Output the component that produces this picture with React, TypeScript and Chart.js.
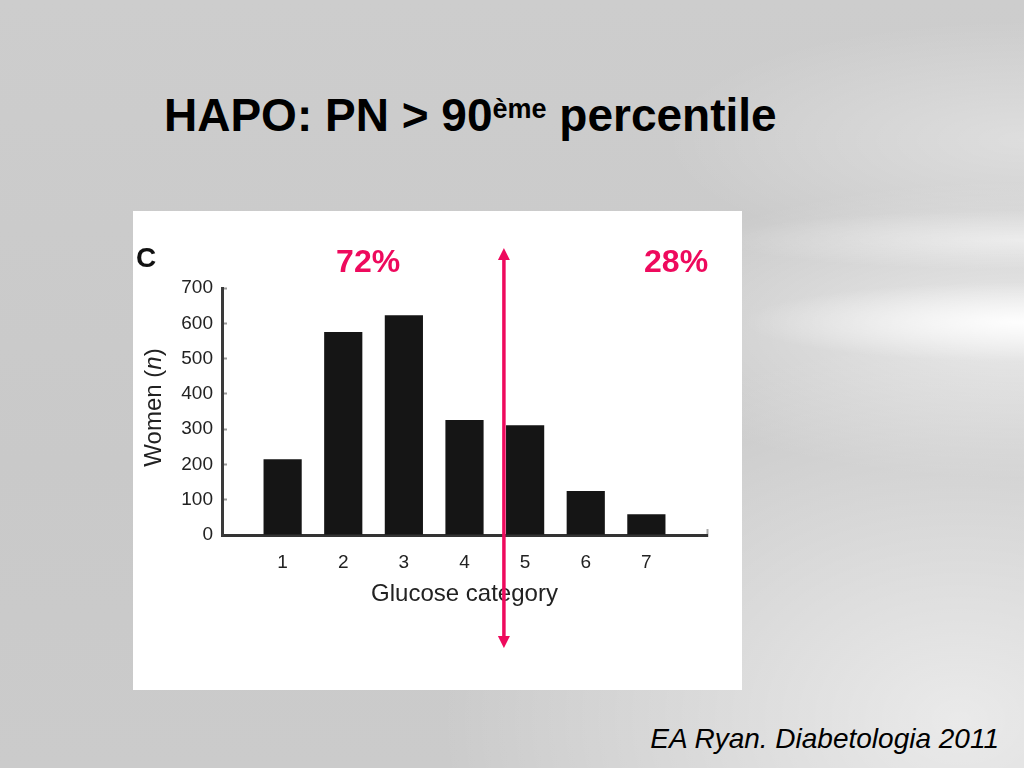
import React, { useEffect, useRef } from 'react';
import { Chart, registerables } from 'chart.js';

Chart.register(...registerables);

// ---- data ----
const categories = [1, 2, 3, 4, 5, 6, 7];
const women = [215, 575, 623, 326, 311, 125, 59];
const yTickValues = [0, 100, 200, 300, 400, 500, 600, 700];
const xRange = [0, 8];
const splitValue = 4.65; // position of the 72% / 28% divider on the glucose axis
const shareLabels = ['72%', '28%'];
const shareLabelPositions = [2.41, 7.49];
const panelLetter = 'C';
const xAxisTitle = 'Glucose category';
const yAxisTitleParts = ['Women (', 'n', ')'];
const slideTitle = 'HAPO: PN > 90';
const slideTitleSup = 'ème';
const slideTitleEnd = ' percentile';
const citation = 'EA Ryan. Diabetologia 2011';

const MAGENTA = '#ee0a5d';
const FONT = '"Liberation Sans", Arial, Helvetica, sans-serif';

const overlayPlugin = {
  id: 'overlay',
  afterDraw(chart: any) {
    const ctx = chart.ctx as CanvasRenderingContext2D;
    const xs = chart.scales.x;
    ctx.save();

    // divider arrow
    const px = xs.getPixelForValue(splitValue);
    const top = 37;
    const bottom = 437;
    const headH = 12;
    const headW = 6;
    ctx.strokeStyle = MAGENTA;
    ctx.fillStyle = MAGENTA;
    ctx.lineWidth = 3.5;
    ctx.beginPath();
    ctx.moveTo(px, top + headH - 1);
    ctx.lineTo(px, bottom - headH + 1);
    ctx.stroke();
    ctx.beginPath();
    ctx.moveTo(px, top);
    ctx.lineTo(px - headW, top + headH);
    ctx.lineTo(px + headW, top + headH);
    ctx.closePath();
    ctx.fill();
    ctx.beginPath();
    ctx.moveTo(px, bottom);
    ctx.lineTo(px - headW, bottom - headH);
    ctx.lineTo(px + headW, bottom - headH);
    ctx.closePath();
    ctx.fill();

    // share labels
    ctx.font = `bold 32px ${FONT}`;
    ctx.textAlign = 'center';
    ctx.textBaseline = 'alphabetic';
    shareLabels.forEach((t, i) => {
      ctx.fillText(t, xs.getPixelForValue(shareLabelPositions[i]), 61);
    });

    // panel letter
    ctx.fillStyle = '#111';
    ctx.font = `bold 28px ${FONT}`;
    ctx.textAlign = 'left';
    ctx.fillText(panelLetter, 3, 56);

    // y axis title (with italic n)
    const ys = chart.scales.y;
    const cy = (ys.top + ys.bottom) / 2 - 4;
    ctx.translate(21, cy);
    ctx.rotate(-Math.PI / 2);
    ctx.fillStyle = '#222222';
    ctx.textBaseline = 'middle';
    const fonts = [`24px ${FONT}`, `italic 24px ${FONT}`, `24px ${FONT}`];
    const widths = yAxisTitleParts.map((p, i) => {
      ctx.font = fonts[i];
      return ctx.measureText(p).width;
    });
    let x = -widths.reduce((a, b) => a + b, 0) / 2;
    yAxisTitleParts.forEach((p, i) => {
      ctx.font = fonts[i];
      ctx.fillText(p, x, 0);
      x += widths[i];
    });
    ctx.restore();
  },
};

function BarChart() {
  const ref = useRef<HTMLCanvasElement | null>(null);
  useEffect(() => {
    if (!ref.current) return;
    const chart = new Chart(ref.current, {
      type: 'bar',
      data: {
        datasets: [
          {
            data: categories.map((c, i) => ({ x: c, y: women[i] })),
            backgroundColor: '#151515',
            borderWidth: 0,
            categoryPercentage: 0.63,
            barPercentage: 1,
          },
        ],
      },
      options: {
        animation: false,
        responsive: false,
        layout: { padding: { left: 0, top: 77, right: 35, bottom: 81 } },
        plugins: {
          legend: { display: false },
          tooltip: { enabled: false },
          title: { display: false },
        },
        scales: {
          x: {
            type: 'linear',
            min: xRange[0],
            max: xRange[1],
            offset: false,
            afterFit: (s: any) => {
              s.height = 74;
            },
            afterBuildTicks: (s: any) => {
              const t = [];
              for (let v = xRange[0]; v <= xRange[1]; v++) t.push({ value: v });
              s.ticks = t;
            },
            grid: {
              display: true,
              offset: false,
              drawOnChartArea: false,
              drawTicks: true,
              tickLength: -6,
              tickWidth: 2,
              tickColor: (c: any) => (c.tick && c.tick.value === xRange[1] ? '#aaaaaa' : 'rgba(0,0,0,0)'),
            },
            border: { display: true, color: '#333333', width: 3 },
            ticks: {
              autoSkip: false,
              maxRotation: 0,
              padding: 22,
              color: '#222222',
              font: { family: FONT, size: 19 },
              callback: (v: any) => (categories.includes(Number(v)) ? String(v) : ''),
            },
            title: {
              display: true,
              text: xAxisTitle,
              color: '#222222',
              padding: 0,
              font: { family: FONT, size: 24 },
            },
          },
          y: {
            min: yTickValues[0],
            max: yTickValues[yTickValues.length - 1],
            afterFit: (s: any) => {
              s.width = 89;
            },
            afterBuildTicks: (s: any) => {
              s.ticks = yTickValues.map((v) => ({ value: v }));
            },
            grid: {
              display: true,
              drawOnChartArea: false,
              drawTicks: true,
              tickLength: -5,
              tickWidth: 2,
              tickColor: '#9a9a9a',
            },
            border: { display: true, color: '#3a3a3a', width: 3 },
            ticks: {
              padding: 14,
              color: '#222222',
              font: { family: FONT, size: 19 },
            },
          },
        },
      },
      plugins: [overlayPlugin],
    } as any);
    return () => chart.destroy();
  }, []);
  return <canvas ref={ref} width={609} height={479} style={{ width: 609, height: 479, display: 'block' }} />;
}

export default function App() {
  return (
    <div
      style={{
        position: 'fixed',
        left: 0,
        top: 0,
        width: 1024,
        height: 768,
        overflow: 'hidden',
        fontFamily: FONT,
        background: [
          'radial-gradient(ellipse 280px 40px at 1024px 322px, rgba(255,255,255,0.95), rgba(255,255,255,0) 100%)',
          'radial-gradient(ellipse 300px 30px at 1024px 240px, rgba(255,255,255,0.5), rgba(255,255,255,0) 100%)',
          'radial-gradient(ellipse 420px 150px at 1024px 330px, rgba(255,255,255,0.6), rgba(255,255,255,0) 100%)',
          'radial-gradient(ellipse 360px 120px at 1024px 140px, rgba(255,255,255,0.35), rgba(255,255,255,0) 100%)',
          'radial-gradient(ellipse 520px 380px at 960px 720px, rgba(255,255,255,0.6), rgba(255,255,255,0) 100%)',
          'linear-gradient(180deg, #cdcdcd 0%, #c9c9c9 60%, #cbcbcb 100%)',
        ].join(','),
      }}
    >
      <div
        style={{
          position: 'absolute',
          left: 164,
          top: 92,
          fontSize: 46,
          lineHeight: '46px',
          fontWeight: 'bold',
          color: '#000',
          whiteSpace: 'nowrap',
        }}
      >
        {slideTitle}
        <sup style={{ fontSize: 27, lineHeight: 0, verticalAlign: 13 }}>{slideTitleSup}</sup>
        {slideTitleEnd}
      </div>
      <div
        style={{
          position: 'absolute',
          left: 133,
          top: 211,
          width: 609,
          height: 479,
          background: '#ffffff',
        }}
      >
        <BarChart />
      </div>
      <div
        style={{
          position: 'absolute',
          right: 25,
          top: 723,
          fontSize: 28,
          lineHeight: '32px',
          fontStyle: 'italic',
          color: '#000',
          whiteSpace: 'nowrap',
        }}
      >
        {citation}
      </div>
    </div>
  );
}
